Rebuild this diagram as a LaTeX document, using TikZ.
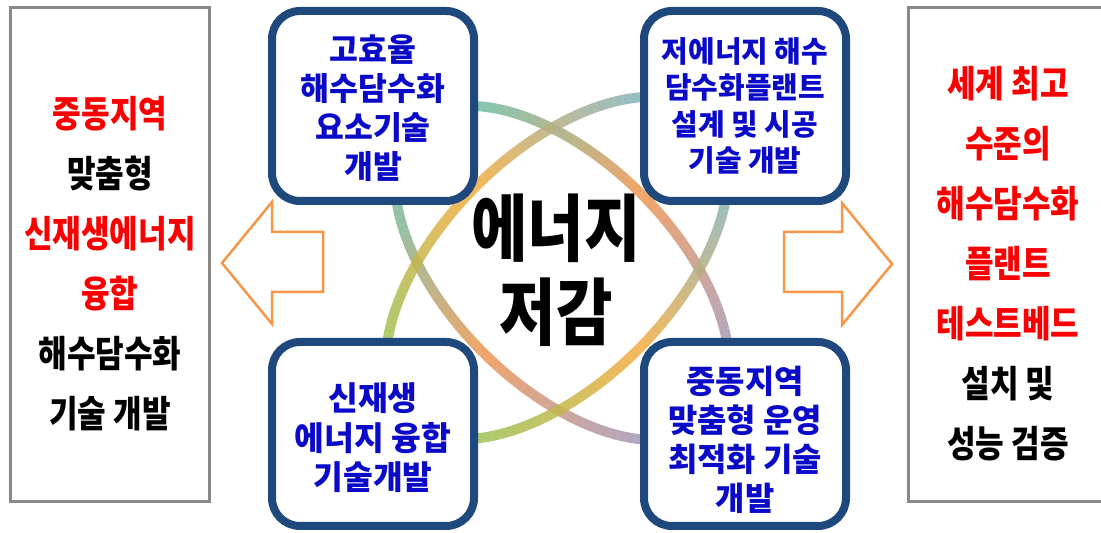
\documentclass[tikz,border=0pt]{standalone}
\usepackage{fontspec}
\newfontfamily\krW[FakeStretch=0.84]{Noto Sans CJK KR}
\newfontfamily\krN[FakeStretch=0.98]{Noto Sans CJK KR}
\definecolor{boxblue}{RGB}{31,73,125}
\definecolor{txtblue}{RGB}{10,10,200}
\definecolor{arrorange}{RGB}{247,150,70}
\definecolor{sidegray}{RGB}{136,136,136}
\definecolor{redtxt}{RGB}{250,0,0}
\definecolor{aNeg}{RGB}{90,195,178}
\definecolor{aMid}{RGB}{240,150,80}
\definecolor{aPos}{RGB}{150,152,204}
\definecolor{bNeg}{RGB}{136,198,88}
\definecolor{bMid}{RGB}{246,172,62}
\definecolor{bPos}{RGB}{108,180,210}
\tikzset{
  sidebox/.style={draw=sidegray, line width=3, fill=white, inner sep=0},
  fatarrow/.style={draw=arrorange, line width=2.5, fill=white, line join=miter},
  roundbox/.style={draw=boxblue, line width=8, fill=white, rounded corners=28, inner sep=0},
  boxtext/.style={text=txtblue, font=\krN\bfseries\fontsize{32}{39}\selectfont, align=center, inner sep=0},
  sidetext/.style={font=\krW\bfseries\fontsize{37}{60}\selectfont, align=center, inner sep=0},
  centertext/.style={font=\krW\bfseries\fontsize{73}{84}\selectfont, align=center, inner sep=0},
  ring/.style={line width=10, opacity=0.85, line cap=butt}
}
\begin{document}
\begin{tikzpicture}[x=1pt,y=1pt]
\useasboundingbox (0,0) rectangle (1101,533);
\clip (0,0) rectangle (1101,533);
\fill[white] (0,0) rectangle (1101,533);

% side boxes
\node (L) [sidebox, minimum width=199, minimum height=494] at (110,278.5) {};
\node (R) [sidebox, minimum width=201.5, minimum height=494] at (1009.25,278.5) {};
\node (Ltxt) [sidetext] at (110,269) {{\color{redtxt}중동지역}\\맞춤형\\{\color{redtxt}신재생에너지}\\{\color{redtxt}융합}\\해수담수화\\기술 개발};
\node (Rtxt) [sidetext, text=redtxt] at (1008,269) {세계 최고\\수준의\\해수담수화\\플랜트\\테스트베드\\{\color{black}설치 및}\\{\color{black}성능 검증}};

% arrows
\draw[fatarrow] (323,241) -- (272,241) -- (272,209) -- (222,270) -- (272,331) -- (272,301) -- (323,301) -- cycle;
\draw[fatarrow] (784,241) -- (842,241) -- (842,208) -- (892,269) -- (842,330) -- (842,301) -- (784,301) -- cycle;

% ellipse A (TL -> BR)
\begin{scope}[shift={(562,260)}, rotate=-45]
\foreach \t in {0,3,...,357}{
  \pgfmathsetmacro{\cc}{cos(\t+1.5)}
  \pgfmathsetmacro{\pp}{abs(\cc)*100}
  \ifdim\cc pt<0pt \colorlet{segc}{aNeg!\pp!aMid}\else\colorlet{segc}{aPos!\pp!aMid}\fi
  \draw[ring, segc] (\t:208 and 112) arc[start angle=\t, end angle=\t+3, x radius=208, y radius=112];
}
\end{scope}
% ellipse B (TR -> BL)
\begin{scope}[shift={(557,265)}, rotate=45]
\foreach \t in {0,3,...,357}{
  \pgfmathsetmacro{\cc}{cos(\t+1.5)}
  \pgfmathsetmacro{\pp}{abs(\cc)*100}
  \ifdim\cc pt<0pt \colorlet{segc}{bNeg!\pp!bMid}\else\colorlet{segc}{bPos!\pp!bMid}\fi
  \draw[ring, segc] (\t:213 and 115) arc[start angle=\t, end angle=\t+3, x radius=213, y radius=115];
}
\end{scope}

% rounded boxes
\node (TL) [roundbox, minimum width=202, minimum height=190] at (373,427) {};
\node (TR) [roundbox, minimum width=202, minimum height=190] at (745,427) {};
\node (BL) [roundbox, minimum width=202, minimum height=184] at (373,99) {};
\node (BR) [roundbox, minimum width=202, minimum height=184] at (745,99) {};

\node (TLt) [boxtext] at (373,424.5) {고효율\\해수담수화\\요소기술\\개발};
\node (TRt) [boxtext, font=\krN\bfseries\fontsize{29.5}{36.5}\selectfont] at (745,427) {저에너지 해수\\담수화플랜트\\설계 및 시공\\기술 개발};
\node (BLt) [boxtext, font=\krN\bfseries\fontsize{33}{39.5}\selectfont] at (373,95) {신재생\\에너지 융합\\기술개발};
\node (BRt) [boxtext, font=\krN\bfseries\fontsize{32.5}{39}\selectfont] at (745,93) {중동지역\\맞춤형 운영\\최적화 기술\\개발};

\node (C) [centertext] at (556,263) {에너지\\저감};
\end{tikzpicture}
\end{document}
